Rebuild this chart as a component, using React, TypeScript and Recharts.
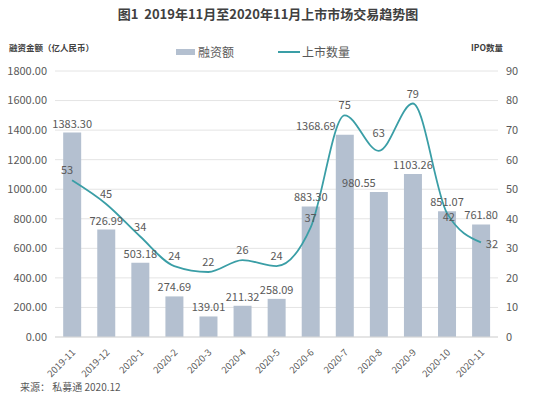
import { ComposedChart, Bar, Line, XAxis, YAxis, CartesianGrid, LabelList } from "recharts";

const months = [
  "2019-11", "2019-12", "2020-1", "2020-2", "2020-3", "2020-4", "2020-5",
  "2020-6", "2020-7", "2020-8", "2020-9", "2020-10", "2020-11",
];
const financing = [1383.3, 726.99, 503.18, 274.69, 139.01, 211.32, 258.09, 883.3, 1368.69, 980.55, 1103.26, 851.07, 761.8];
const ipoCount = [53, 45, 34, 24, 22, 26, 24, 37, 75, 63, 79, 42, 32];
const leftTicks = [0, 200, 400, 600, 800, 1000, 1200, 1400, 1600, 1800];
const rightTicks = [0, 10, 20, 30, 40, 50, 60, 70, 80, 90];

const data = months.map((m, i) => ({ m, amount: financing[i], count: ipoCount[i] }));

const FONT = '"Noto Sans CJK SC", "Noto Sans", sans-serif';
const GRAY = "#595959";
const BAR = "#b4c0d0";
const LINE = "#3a9ea6";

// manual nudges for labels the original moved by hand
const barShift: Record<number, number> = { 8: -29, 9: -20 };
const lineShift: Record<number, [number, number]> = {
  0: [-5, 0], 9: [0, -8], 11: [2, 14], 12: [11, 12],
};

const BarLabel = (p: any) => {
  const dx = barShift[p.index] || 0;
  return (
    <text x={p.x + p.width / 2 + dx} y={p.y - 5} textAnchor="middle" fontSize={11} fill={GRAY} fontFamily={FONT}>
      {Number(p.value).toFixed(2)}
    </text>
  );
};

const LineLabel = (p: any) => {
  const [dx, dy] = lineShift[p.index] || [0, 0];
  return (
    <text x={p.x + dx} y={p.y - 6 + dy} textAnchor="middle" fontSize={11} fill={GRAY} fontFamily={FONT}>
      {p.value}
    </text>
  );
};

const XTick = (p: any) => (
  <text x={p.x + 4} y={p.y + 8} textAnchor="end" fontSize={9.5} fill={GRAY} fontFamily={FONT}
    transform={`rotate(-45, ${p.x + 4}, ${p.y + 8})`}>
    {p.payload.value}
  </text>
);

export default function App() {
  return (
    <div style={{ position: "absolute", left: 0, top: 0, width: 536, height: 398, background: "#fff", fontFamily: FONT }}>
      <div style={{ position: "absolute", top: 4, width: 536, textAlign: "center", fontSize: 13, fontWeight: 700, color: "#404040" }}>
        图1&nbsp;&nbsp;2019年11月至2020年11月上市市场交易趋势图
      </div>
      <div style={{ position: "absolute", left: 9, top: 41, fontSize: 8.5, fontWeight: 700, color: "#404040" }}>
        融资金额（亿人民币）
      </div>
      <div style={{ position: "absolute", left: 471, top: 41, fontSize: 8.5, fontWeight: 700, color: "#404040" }}>
        IPO数量
      </div>
      <div style={{ position: "absolute", left: 176, top: 43, display: "flex", alignItems: "center", fontSize: 12, color: GRAY }}>
        <span style={{ display: "inline-block", width: 19, height: 6, background: BAR, marginRight: 3 }} />
        融资额
        <span style={{ display: "inline-block", width: 22, height: 2, background: LINE, marginLeft: 44, marginRight: 2 }} />
        上市数量
      </div>
      <div style={{ position: "absolute", left: 20, top: 379, fontSize: 10, color: GRAY }}>
        来源：&nbsp;私募通 2020.12
      </div>
      <ComposedChart width={536} height={398} data={data} margin={{ top: 71, right: 0, bottom: 21, left: 0 }}
        barCategoryGap="24%">
        <CartesianGrid vertical={false} stroke="#e4e4e4" yAxisId="l" />
        <XAxis dataKey="m" height={40} interval={0} tickLine={false} axisLine={{ stroke: "#d9d9d9" }} tick={<XTick />} />
        <YAxis yAxisId="l" width={55} domain={[0, 1800]} ticks={leftTicks} tickLine={false} axisLine={false}
          tickFormatter={(v: number) => v.toFixed(2)} tick={{ fontSize: 11, fill: GRAY, fontFamily: FONT }} />
        <YAxis yAxisId="r" orientation="right" width={38} domain={[0, 90]} ticks={rightTicks} tickLine={false}
          axisLine={false} tick={{ fontSize: 11, fill: GRAY, fontFamily: FONT }} />
        <Bar yAxisId="l" dataKey="amount" fill={BAR} isAnimationActive={false}>
          <LabelList dataKey="amount" content={<BarLabel />} />
        </Bar>
        <Line yAxisId="r" dataKey="count" type="monotone" stroke={LINE} strokeWidth={1.8} dot={false} isAnimationActive={false}>
          <LabelList dataKey="count" content={<LineLabel />} />
        </Line>
      </ComposedChart>
    </div>
  );
}
